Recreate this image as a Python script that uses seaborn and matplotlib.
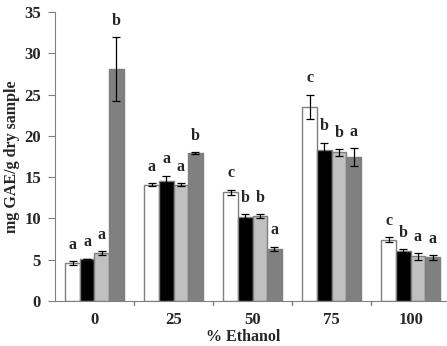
import numpy as np
import pandas as pd
import matplotlib
matplotlib.use('Agg')
import matplotlib.pyplot as plt
import seaborn as sns

# ===== 数据 =====
ethanol = ['0', '25', '50', '75', '100']
series = ['S1', 'S2', 'S3', 'S4']
s1_vals = [4.6, 14.1, 13.2, 23.5, 7.4]
s2_vals = [5.1, 14.6, 10.2, 18.3, 6.1]
s3_vals = [5.8, 14.1, 10.3, 18.0, 5.4]
s4_vals = [28.1, 17.9, 6.3, 17.4, 5.3]
s1_err = [0.25, 0.2, 0.3, 1.5, 0.3]
s2_err = [0.05, 0.6, 0.3, 0.9, 0.2]
s3_err = [0.2, 0.2, 0.2, 0.4, 0.4]
s4_err = [3.9, 0.1, 0.3, 1.1, 0.3]
s1_lbl = ['a', 'a', 'c', 'c', 'c']
s2_lbl = ['a', 'a', 'b', 'b', 'b']
s3_lbl = ['a', 'a', 'b', 'b', 'a']
s4_lbl = ['b', 'b', 'a', 'a', 'a']

vals = [s1_vals, s2_vals, s3_vals, s4_vals]
errs = [s1_err, s2_err, s3_err, s4_err]
lbls = [s1_lbl, s2_lbl, s3_lbl, s4_lbl]

rows = []
for s, v, e, l in zip(series, vals, errs, lbls):
    for cat, vv, ee, ll in zip(ethanol, v, e, l):
        rows.append({'ethanol': cat, 'series': s, 'value': vv, 'err': ee, 'label': ll})
df = pd.DataFrame(rows)

sns.set_style('white')
plt.rcParams['font.family'] = ['Liberation Serif', 'DejaVu Serif']
plt.rcParams['font.weight'] = 'bold'

colors = ['#ffffff', '#000000', '#c0c0c0', '#808080']

fig = plt.figure(figsize=(4.47, 3.46), dpi=100)
ax = fig.add_axes([0.123, 0.130, 0.884, 0.835])

sns.barplot(data=df, x='ethanol', y='value', hue='series', order=ethanol,
            hue_order=series, palette=colors, errorbar=None, width=0.74,
            edgecolor='#7f7f7f', linewidth=1.0, legend=False, ax=ax)

# 误差线和显著性字母
for i, s in enumerate(series):
    cont = ax.containers[i]
    sub = df[df['series'] == s].set_index('ethanol').loc[ethanol]
    for bar, (_, r) in zip(cont, sub.iterrows()):
        xc = bar.get_x() + bar.get_width() / 2
        ax.errorbar(xc, r['value'], yerr=r['err'], color='black', lw=0.9,
                    capsize=3, capthick=0.9, zorder=5)
        ax.text(xc, r['value'] + r['err'] + 1.0, r['label'], ha='center',
                va='bottom', fontsize=11.5, fontweight='bold')

ax.set_ylim(0, 35)
ax.set_xlim(-0.5, 4.5)
ax.set_yticks(range(0, 36, 5))
ax.set_xticks(range(5))
ax.set_xticklabels(ethanol)
ax.tick_params(axis='x', length=0, pad=8, labelsize=12)
ax.tick_params(axis='y', left=True, length=5, color='#808080', labelsize=12, pad=5)
for t in ax.get_xticklabels() + ax.get_yticklabels():
    t.set_fontweight('bold')
# 分组之间的刻度
for xb in np.arange(0.5, 4.5, 1):
    ax.plot([xb, xb], [0, -0.015], transform=ax.get_xaxis_transform(),
            color='#808080', lw=1, clip_on=False)

for side in ['top', 'right']:
    ax.spines[side].set_visible(False)
ax.spines['left'].set_color('#808080')
ax.spines['bottom'].set_color('#808080')

ax.set_xlabel('% Ethanol', fontsize=11.5, fontweight='bold')
ax.xaxis.set_label_coords(0.476, -0.098)
ax.set_ylabel('mg GAE/g dry sample', fontsize=11.5, fontweight='bold', labelpad=3)

plt.savefig('out.png', dpi=100)
